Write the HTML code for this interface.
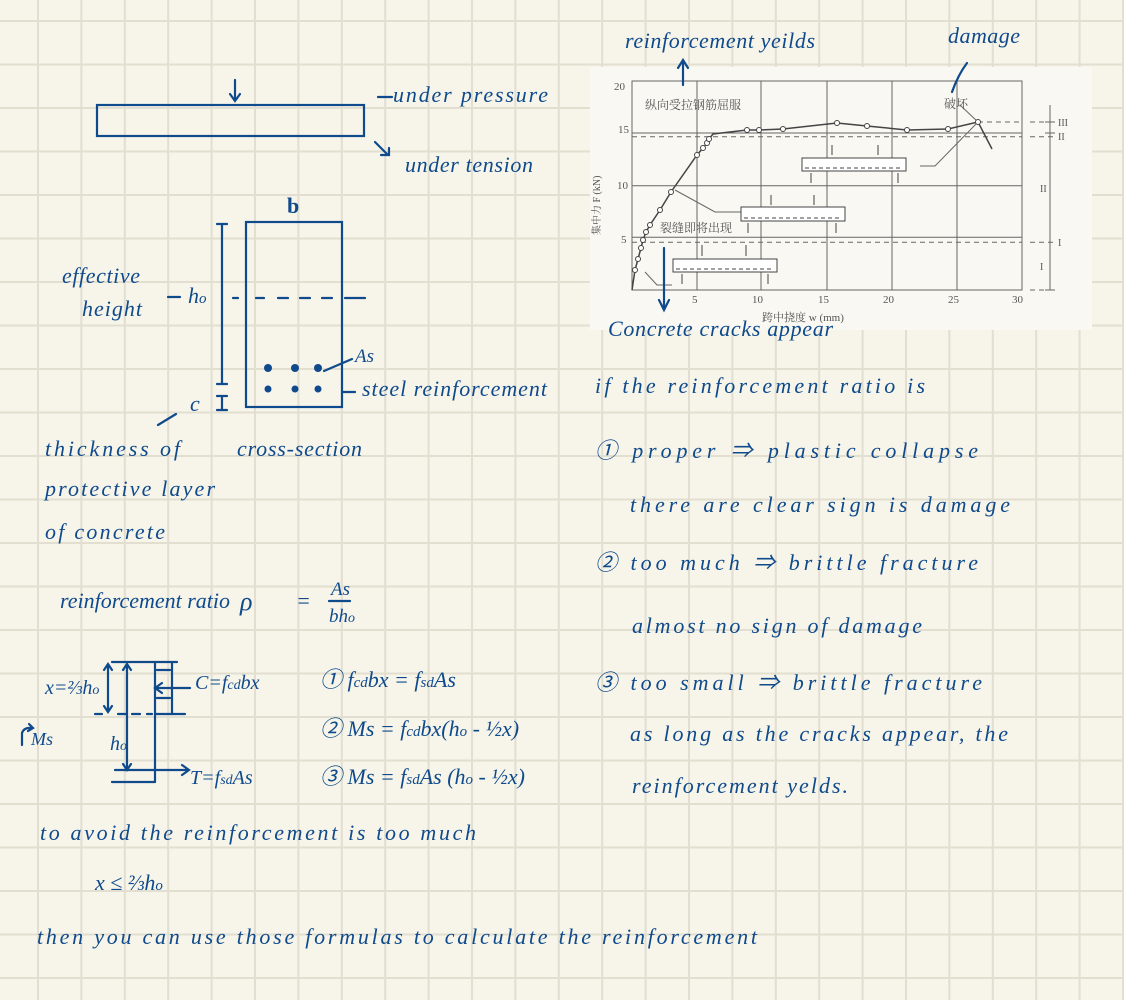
<!DOCTYPE html>
<html><head><meta charset="utf-8"><style>
html,body{margin:0;padding:0;background:#f7f5ea;}
svg{display:block}
.h{font-family:"Liberation Serif","Noto Sans CJK SC",serif;font-style:italic;fill:#0f4a8c;font-size:22px;}
.c{font-family:"Liberation Serif","Noto Serif CJK SC",serif;fill:#555;font-size:11px;}
</style></head><body>
<svg width="1124" height="1000" viewBox="0 0 1124 1000" xmlns="http://www.w3.org/2000/svg">
<rect width="1124" height="1000" fill="#f7f5ea"/>
<g stroke="#e2ded0" stroke-width="2">
<path d="M38 0V1000M81.4 0V1000M124.8 0V1000M168.2 0V1000M211.6 0V1000M255 0V1000M298.4 0V1000M341.8 0V1000M385.2 0V1000M428.6 0V1000M472 0V1000M515.4 0V1000M558.8 0V1000M602.2 0V1000M645.6 0V1000M689 0V1000M732.4 0V1000M775.8 0V1000M819.2 0V1000M862.6 0V1000M906 0V1000M949.4 0V1000M992.8 0V1000M1036.2 0V1000M1079.6 0V1000M1123 0V1000"/>
<path d="M0 21H1124M0 64.5H1124M0 108H1124M0 151.5H1124M0 195H1124M0 238.5H1124M0 282H1124M0 325.5H1124M0 369H1124M0 412.5H1124M0 456H1124M0 499.5H1124M0 543H1124M0 586.5H1124M0 630H1124M0 673.5H1124M0 717H1124M0 760.5H1124M0 804H1124M0 847.5H1124M0 891H1124M0 934.5H1124M0 978H1124"/>
</g>

<!-- chart -->
<rect x="590" y="67" width="502" height="263" fill="#f9f8f3"/>
<g stroke="#666" stroke-width="1" fill="none">
<rect x="632" y="81" width="390" height="209"/>
<path d="M697 81V290M761 81V290M827 81V290M892 81V290M957 81V290"/>
<path d="M632 133H1022M632 185.7H1022M632 237.3H1022"/>
<path d="M632 136.7H1022M632 242.3H1022M978 122H1022M1030 122H1055M1030 136.7H1055M1030 242.3H1055M1030 290H1055" stroke-dasharray="5 4"/>
<path d="M1050 105V290M1045 122H1055M1045 133H1055M1045 290H1055"/>
<polyline stroke="#444" stroke-width="1.5" points="632,290 635,270 638,259 641,248 643,240 646,232 650,225 660,210 671,192 697,155 703,148 707,143 709,139 713,134 747,130 759,130 783,129 837,123 867,126 907,130 948,129 978,122"/>
<path d="M978 122L992 149" stroke="#444" stroke-width="1.5"/>
<path d="M960 105L978 122M645 272L657 285H672M675 190L715 212H742M920 166H935L978 122" />
</g>
<g fill="#fff" stroke="#444" stroke-width="1">
<circle cx="635" cy="270" r="2.5"/><circle cx="638" cy="259" r="2.5"/><circle cx="641" cy="248" r="2.5"/><circle cx="643" cy="240" r="2.5"/><circle cx="646" cy="232" r="2.5"/><circle cx="650" cy="225" r="2.5"/><circle cx="660" cy="210" r="2.5"/><circle cx="671" cy="192" r="2.5"/><circle cx="697" cy="155" r="2.5"/><circle cx="703" cy="148" r="2.5"/><circle cx="707" cy="143" r="2.5"/><circle cx="709" cy="139" r="2.5"/><circle cx="747" cy="130" r="2.5"/><circle cx="759" cy="130" r="2.5"/><circle cx="783" cy="129" r="2.5"/><circle cx="837" cy="123" r="2.5"/><circle cx="867" cy="126" r="2.5"/><circle cx="907" cy="130" r="2.5"/><circle cx="948" cy="129" r="2.5"/><circle cx="978" cy="122" r="2.5"/>
<rect x="673" y="259" width="104" height="13"/>
<rect x="741" y="207" width="104" height="14"/>
<rect x="802" y="158" width="104" height="13"/>
</g>
<g stroke="#444" stroke-width="1" fill="none">
<path d="M676 269H774M744 218H842M805 168H903" stroke-dasharray="4 3"/>
<path d="M702 245V256M746 245V256M771 195V205M814 195V205M832 145V155M878 145V155M682 284V274M768 284V274M748 233V223M836 233V223M811 183V173M898 183V173"/>
</g>
<g class="c">
<text x="614" y="90">20</text><text x="618" y="133">15</text><text x="617" y="189">10</text><text x="621" y="243">5</text>
<text x="692" y="303">5</text><text x="752" y="303">10</text><text x="818" y="303">15</text><text x="883" y="303">20</text><text x="948" y="303">25</text><text x="1012" y="303">30</text>
<text x="645" y="109" font-size="12">纵向受拉钢筋屈服</text>
<text x="944" y="108" font-size="12">破坏</text>
<text x="660" y="232" font-size="12">裂缝即将出现</text>
<text x="762" y="321" font-size="11">跨中挠度 w (mm)</text>
<text x="1058" y="126" font-size="10">III</text><text x="1058" y="140" font-size="10">II</text><text x="1040" y="192" font-size="10">II</text><text x="1058" y="246" font-size="10">I</text><text x="1040" y="270" font-size="10">I</text>
<text transform="translate(600,235) rotate(-90)" font-size="10">集中力 F (kN)</text>
</g>

<g stroke="#0f4a8c" stroke-width="2.2" fill="none" stroke-linecap="round">
<path d="M683 85V62M678 68L683 60L688 68"/>
<path d="M952 92Q958 75 967 63"/>
<path d="M664 248V308M659 300L664 310L669 300"/>
<path d="M235 80V100M230 94L235 101L240 94"/>
<rect x="97" y="105" width="267" height="31"/>
<path d="M378 97H392M375 142L388 155M381 155H389V148"/>
<rect x="246" y="222" width="96" height="185"/>
<path d="M222 224V384M217 224H227M217 384H227M222 396V410M217 396H227M217 410H227"/>
<path d="M233 298H238M256 298H264M278 298H288M300 298H310M322 298H332M345 298H365"/>
<path d="M168 297H180M324 371L352 359M342 392H355M158 425L176 414"/>
<path d="M112 662H177M155 662V782M112 782H155M155 714H177M172 662V714M95 714H102M118 714H126M132 714H140M147 714H152"/>
<path d="M178 714H185" />
<path d="M108 665V711M104 670L108 664L112 670M104 706L108 712L112 706"/>
<path d="M127 665V769M123 670L127 664L131 670M123 764L127 770L131 764"/>
<path d="M190 688H155M162 683L155 688L162 693M170 670H157M170 698H157"/>
<path d="M115 770H188M182 765L189 770L182 775"/>
<path d="M22 745V733Q24 727 32 728M29 724L33 728L28 731"/>
<path d="M329 601H350"/>
</g>
<g fill="#0f4a8c">
<circle cx="268" cy="368" r="4"/><circle cx="295" cy="368" r="4"/><circle cx="318" cy="368" r="4"/>
<circle cx="268" cy="389" r="3.5"/><circle cx="295" cy="389" r="3.5"/><circle cx="318" cy="389" r="3.5"/>
</g>

<g class="h">
<text x="625" y="48" textLength="190">reinforcement yeilds</text>
<text x="948" y="43" textLength="72">damage</text>
<text x="608" y="336" textLength="225">Concrete cracks appear</text>
<text x="393" y="102" textLength="155">under pressure</text>
<text x="405" y="172" textLength="128">under tension</text>
<text x="287" y="213" font-style="normal" font-weight="bold">b</text>
<text x="62" y="283" textLength="78">effective</text>
<text x="82" y="316" textLength="60">height</text>
<text x="188" y="303">h<tspan font-size="15">o</tspan></text>
<text x="355" y="362" font-size="19">As</text>
<text x="362" y="396" textLength="185">steel reinforcement</text>
<text x="190" y="411">c</text>
<text x="45" y="456" textLength="135">thickness of</text>
<text x="237" y="456" textLength="125">cross-section</text>
<text x="45" y="496" textLength="170">protective layer</text>
<text x="45" y="539" textLength="120">of concrete</text>
<text x="60" y="608" textLength="170">reinforcement ratio</text>
<text x="240" y="610" font-size="26">ρ</text>
<text x="296" y="608">=</text>
<text x="331" y="595" font-size="19">As</text>
<text x="329" y="622" font-size="19">bh<tspan font-size="14">o</tspan></text>
<text x="45" y="694" font-size="20">x=⅔h<tspan font-size="14">o</tspan></text>
<text x="195" y="689" font-size="20">C=f<tspan font-size="14">cd</tspan>bx</text>
<text x="110" y="750" font-size="20">h<tspan font-size="14">o</tspan></text>
<text x="31" y="745" font-size="18">Ms</text>
<text x="190" y="784" font-size="20">T=f<tspan font-size="14">sd</tspan>As</text>
<text x="320" y="687">① f<tspan font-size="15">cd</tspan>bx = f<tspan font-size="15">sd</tspan>As</text>
<text x="320" y="736">② Ms = f<tspan font-size="15">cd</tspan>bx(h<tspan font-size="15">o</tspan> - ½x)</text>
<text x="320" y="784">③ Ms = f<tspan font-size="15">sd</tspan>As (h<tspan font-size="15">o</tspan> - ½x)</text>
<text x="40" y="840" textLength="436">to avoid the reinforcement is too much</text>
<text x="95" y="890">x ≤ ⅔h<tspan font-size="15">o</tspan></text>
<text x="37" y="944" textLength="720">then you can use those formulas to calculate the reinforcement</text>
<text x="595" y="393" textLength="330">if the reinforcement ratio is</text>
<text x="595" y="458" textLength="383">① proper ⇒ plastic collapse</text>
<text x="630" y="512" textLength="380">there are clear sign is damage</text>
<text x="595" y="570" textLength="383">② too much ⇒ brittle fracture</text>
<text x="632" y="633" textLength="290">almost no sign of damage</text>
<text x="595" y="690" textLength="387">③ too small ⇒ brittle fracture</text>
<text x="630" y="741" textLength="378">as long as the cracks appear, the</text>
<text x="632" y="793" textLength="216">reinforcement yelds.</text>
</g>
</svg>
</body></html>
